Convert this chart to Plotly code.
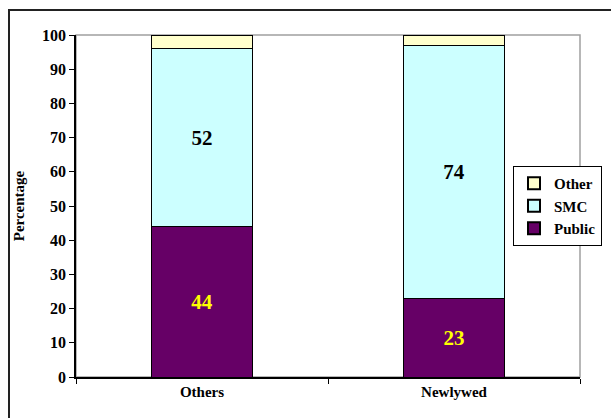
import plotly.graph_objects as go

categories = ["Others", "Newlywed"]
public = [44, 23]
smc = [52, 74]
other = [4, 3]
y_ticks = [0, 10, 20, 30, 40, 50, 60, 70, 80, 90, 100]

W, H = 611, 418
L, R, T, B = 76, 31, 35, 41
pw, ph = W - L - R, H - T - B

font_family = "Liberation Serif, Times New Roman, serif"

fig = go.Figure()
fig.add_trace(go.Bar(
    x=categories, y=public, name="Public",
    marker=dict(color="#660066", line=dict(color="black", width=1)),
    text=public, texttemplate="%{text}", textposition="inside",
    insidetextanchor="middle", textangle=0,
    textfont=dict(color="#FFFF00", size=21, family=font_family, weight="bold"),
))
fig.add_trace(go.Bar(
    x=categories, y=smc, name="SMC",
    marker=dict(color="#CCFFFF", line=dict(color="black", width=1)),
    text=smc, texttemplate="%{text}", textposition="inside",
    insidetextanchor="middle", textangle=0,
    textfont=dict(color="black", size=21, family=font_family, weight="bold"),
))
fig.add_trace(go.Bar(
    x=categories, y=other, name="Other",
    marker=dict(color="#FFFFCC", line=dict(color="black", width=1)),
    textposition="none",
))

# plot-area border (gray) and outer chart frame
shapes = [
    dict(type="rect", xref="paper", yref="paper", x0=0, x1=1, y0=0, y1=1,
         line=dict(color="#A0A0A0", width=1.5), layer="below"),
    dict(type="rect", xref="paper", yref="paper",
         x0=(9 - L) / pw, x1=(640 - L) / pw,
         y0=-(60) / ph, y1=(H - B - 10) / ph,
         line=dict(color="#222222", width=2), layer="below"),
]

fig.update_layout(
    width=W, height=H,
    margin=dict(l=L, r=R, t=T, b=B, autoexpand=False),
    barmode="stack", bargap=0.6,
    paper_bgcolor="white", plot_bgcolor="white",
    font=dict(family=font_family, color="black", size=15),
    shapes=shapes,
    showlegend=True,
    legend=dict(
        x=(513 - L) / pw, y=(H - B - 166) / ph, xanchor="left", yanchor="top",
        bgcolor="white", bordercolor="black", borderwidth=1,
        font=dict(size=15, family=font_family, weight="bold"),
        traceorder="reversed", itemsizing="constant",
        tracegroupgap=0, itemwidth=30,
    ),
    xaxis=dict(
        showline=True, linecolor="black", linewidth=1.5,
        ticks="outside", tickson="boundaries", ticklen=5, tickcolor="black",
        tickfont=dict(size=15, family=font_family, weight="bold"),
        showgrid=False, automargin=False,
    ),
    yaxis=dict(
        range=[0, 100], tickvals=y_ticks,
        showline=True, linecolor="black", linewidth=1.5,
        ticks="outside", ticklen=5, tickcolor="black",
        tickfont=dict(size=16, family=font_family, weight="bold"),
        showgrid=False, zeroline=False, automargin=False,
        title=dict(text="Percentage", standoff=14,
                   font=dict(size=15, family=font_family, weight="bold")),
    ),
)

fig.write_html("out.html")
